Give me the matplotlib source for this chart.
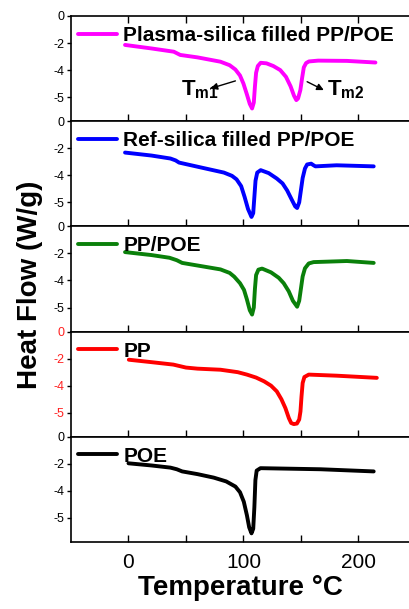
import numpy as np
import matplotlib
matplotlib.use('Agg')
import matplotlib.pyplot as plt

plt.rcParams['font.family'] = ['Liberation Sans', 'DejaVu Sans']
plt.rcParams['mathtext.fontset'] = 'custom'
plt.rcParams['mathtext.bf'] = 'Liberation Sans:bold'
plt.rcParams['mathtext.rm'] = 'Liberation Sans:bold'

# DSC curves, one panel each (temperature in degC, heat flow in panel units)
labels = ['Plasma-silica filled PP/POE', 'Ref-silica filled PP/POE', 'PP/POE', 'PP', 'POE']
colors = ['#ff00ff', '#0000ff', '#0a800a', '#ff0000', '#000000']

t_plasma = [-3, 20, 39.4, 45, 60, 80, 88, 93, 97, 100, 103, 105.5, 107.5, 109, 110, 111, 112.5, 115,
            120, 126, 132, 137, 141, 144, 146, 147.5, 149.5, 151, 152.5, 154.5, 157, 165, 190, 214.8]
hf_plasma = [-1.07, -1.2, -1.32, -1.44, -1.53, -1.69, -1.82, -1.98, -2.2, -2.5, -2.9, -3.25, -3.42, -3.2,
             -2.6, -2.1, -1.85, -1.73, -1.75, -1.85, -2.0, -2.25, -2.6, -2.95, -3.11, -3.05, -2.74, -2.3,
             -1.9, -1.74, -1.68, -1.65, -1.66, -1.72]

t_ref = [-3, 20, 36.5, 41, 44, 65, 83, 90, 94, 98, 101, 104, 107, 108.5, 109.5, 110.5, 112, 115, 122,
         129, 134, 138, 142, 145, 146.7, 148.5, 150, 151.5, 153.5, 155.4, 158.9, 161, 162.6, 181, 213.3]
hf_ref = [-1.16, -1.27, -1.38, -1.45, -1.53, -1.73, -1.90, -2.02, -2.15, -2.4, -2.8, -3.25, -3.54, -3.4,
          -2.8, -2.2, -1.9, -1.81, -1.92, -2.12, -2.3, -2.56, -2.9, -3.15, -3.21, -3.0, -2.55, -2.1,
          -1.75, -1.6, -1.57, -1.63, -1.67, -1.63, -1.67]

t_blend = [-3, 20, 35.7, 42, 46.7, 80, 88, 92, 97, 100.5, 103, 105.5, 107.5, 109, 110, 111, 113, 116.2,
           124, 130.7, 135, 139.4, 143, 146.7, 148.5, 150, 151.5, 153.5, 156.8, 161, 190, 213.3]
hf_blend = [-0.95, -1.06, -1.16, -1.25, -1.35, -1.59, -1.72, -1.86, -2.1, -2.35, -2.7, -3.1, -3.26, -3.0,
            -2.3, -1.8, -1.6, -1.56, -1.7, -1.90, -2.1, -2.40, -2.75, -2.97, -2.75, -2.3, -1.85, -1.55,
            -1.37, -1.32, -1.28, -1.35]

t_pp = [0.3, 20, 39, 50, 60, 80, 95, 103, 111, 118, 124, 129, 133, 136.5, 139.5, 141.5, 143.8, 146.5,
        148.5, 149.6, 150.5, 151.5, 153, 156.8, 181, 216]
hf_pp = [-1.04, -1.13, -1.22, -1.33, -1.37, -1.41, -1.5, -1.59, -1.7, -1.84, -2.0, -2.21, -2.5, -2.83,
         -3.2, -3.38, -3.42, -3.4, -3.25, -2.95, -2.4, -1.9, -1.68, -1.59, -1.63, -1.71]

t_poe = [0, 20, 36.5, 42, 46.7, 60, 74.2, 85, 93, 97, 100.3, 103, 105, 107, 108.5, 109.5, 110.4, 111.5,
         114.8, 167, 213.3]
hf_poe = [-0.98, -1.06, -1.14, -1.2, -1.28, -1.38, -1.51, -1.65, -1.84, -2.05, -2.40, -2.9, -3.35, -3.57,
          -3.4, -2.6, -1.6, -1.25, -1.16, -1.20, -1.28]

temps = [t_plasma, t_ref, t_blend, t_pp, t_poe]
flows = [hf_plasma, hf_ref, hf_blend, hf_pp, hf_poe]

ytick_pos = [0, -1, -2, -3]
ytick_labels = ['0', '-2', '-4', '-5']
xticks = [0, 100, 200]
xminor = [50, 150]

fig = plt.figure(figsize=(4.09, 6.09), dpi=100)
left, right = 71 / 409, 1.0
top, bottom = 1 - 16 / 609, 1 - 542 / 609
h = (top - bottom) / 5

axes = []
for i in range(5):
    ax = fig.add_axes([left, top - (i + 1) * h, right - left, h])
    axes.append(ax)
    ax.plot(temps[i], flows[i], color=colors[i], lw=2.8, label=labels[i],
            solid_capstyle='round', solid_joinstyle='round')
    ax.set_xlim(-50, 244)
    ax.set_ylim(-3.89, 0)
    ax.set_yticks(ytick_pos)
    tick_col = '#ff2020' if labels[i] == 'PP' else 'black'
    ax.set_yticklabels(ytick_labels, color=tick_col, fontsize=9)
    ax.tick_params(axis='y', direction='out', length=3, width=1, pad=2)
    ax.set_xticks(xticks)
    ax.set_xticks(xminor, minor=True)
    ax.tick_params(axis='x', which='both', direction='in', length=5, width=1,
                   top=(i == 0), bottom=True, labelsize=15, pad=8)
    if i < 4:
        ax.tick_params(axis='x', labelbottom=False)
    ax.spines['right'].set_visible(False)
    for s in ['left', 'top', 'bottom']:
        ax.spines[s].set_linewidth(1.2)
    ax.legend(loc='upper left', bbox_to_anchor=(-0.005, 0.985), frameon=False,
              prop={'weight': 'bold', 'size': 15}, handlelength=1.9,
              handletextpad=0.3, borderaxespad=0, borderpad=0.4)

# melting peak annotations in top panel
ax0 = axes[0]
arrow = dict(arrowstyle='-|>', color='black', lw=1, mutation_scale=10, shrinkA=0, shrinkB=0)
ax0.annotate('', xy=(71.3, -2.68), xytext=(93, -2.40), arrowprops=arrow)
ax0.text(46, -2.95, r'$\mathbf{T_{m1}}$', fontsize=16, ha='left', va='baseline')
ax0.annotate('', xy=(169.9, -2.74), xytext=(155.4, -2.43), arrowprops=arrow)
ax0.text(173, -2.95, r'$\mathbf{T_{m2}}$', fontsize=16, ha='left', va='baseline')

axes[-1].set_xlabel('Temperature °C', fontsize=20, fontweight='bold', labelpad=2)
fig.text(30 / 409, 1 - 285 / 609, 'Heat Flow (W/g)', rotation=90, fontsize=20,
         fontweight='bold', ha='center', va='center')

fig.savefig('out.png', dpi=100)
